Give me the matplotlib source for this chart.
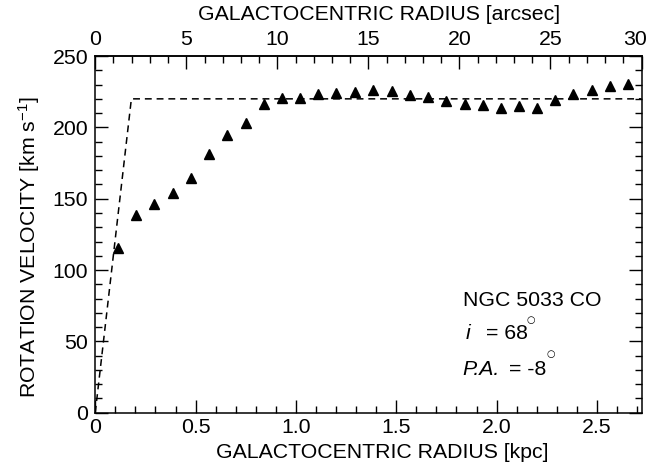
import matplotlib
matplotlib.use("Agg")
import matplotlib.pyplot as plt
from matplotlib.ticker import MultipleLocator
from matplotlib.transforms import ScaledTranslation

plt.rcParams['font.family'] = ['Liberation Sans', 'DejaVu Sans']
plt.rcParams['mathtext.fontset'] = 'custom'
plt.rcParams['mathtext.rm'] = 'Liberation Sans'
plt.rcParams['mathtext.it'] = 'Liberation Sans:italic'

# CO rotation curve of NGC 5033
radius_kpc = [0.115, 0.203, 0.294, 0.386, 0.477, 0.567, 0.658, 0.750, 0.839,
              0.931, 1.020, 1.112, 1.201, 1.293, 1.383, 1.478, 1.567, 1.657,
              1.750, 1.841, 1.931, 2.022, 2.112, 2.203, 2.293, 2.383, 2.475,
              2.566, 2.654]
velocity = [115.2, 138.4, 146.1, 154.2, 164.3, 181.5, 194.6, 202.8, 216.6,
            220.4, 220.8, 223.2, 223.9, 224.8, 226.0, 225.5, 222.5, 221.5,
            218.7, 216.2, 215.4, 213.8, 215.2, 213.8, 219.2, 223.2, 226.2,
            229.0, 230.2]

# model curve: solid-body rise then flat
model_r = [0.0, 0.18, 2.722]
model_v = [0.0, 220.0, 220.0]

x_max_kpc = 2.722
x_max_arcsec = 30.0
kpc_per_arcsec = x_max_kpc / x_max_arcsec

FS = 15.3

fig = plt.figure(figsize=(6.48, 4.73), dpi=100)
ax = fig.add_axes([0.147, 0.1275, 0.843, 0.754])

ax.plot(model_r, model_v, color='black', lw=1.1, linestyle=(0, (4.5, 3.2)))
ax.plot(radius_kpc, velocity, linestyle='none', marker='^', ms=7.5,
        color='black')

ax.set_xlim(0, x_max_kpc)
ax.set_ylim(0, 250)
ax.xaxis.set_minor_locator(MultipleLocator(0.1))
ax.yaxis.set_major_locator(MultipleLocator(50))
ax.yaxis.set_minor_locator(MultipleLocator(10))
ax.set_xticks([0, 0.5, 1.0, 1.5, 2.0, 2.5])
ax.set_xticklabels(['0', '0.5', '1.0', '1.5', '2.0', '2.5'])

for side in ax.spines.values():
    side.set_linewidth(1.1)

ax.tick_params(which='both', direction='in', width=1.0, labelsize=FS,
               top=False, right=True, labelright=False)
ax.tick_params(which='major', length=9.5, pad=4)
ax.tick_params(which='minor', length=4.7)
ax.tick_params(axis='y', which='major', pad=5)

ax.set_xlabel('GALACTOCENTRIC RADIUS [kpc]', fontsize=FS, labelpad=4)
ax.xaxis.label.set_x(0.525)
ax.set_ylabel(r'ROTATION VELOCITY [km s$^{-1}$]', fontsize=FS)
ax.yaxis.set_label_coords(-0.0975, 0.465)

# upper axis in arcsec
top = ax.secondary_xaxis('top', functions=(lambda x: x / kpc_per_arcsec,
                                           lambda a: a * kpc_per_arcsec))
top.set_xticks([0, 5, 10, 15, 20, 25, 30])
top.xaxis.set_minor_locator(MultipleLocator(1))
top.tick_params(which='both', direction='in', width=1.0, labelsize=FS)
top.tick_params(which='major', length=9.5, pad=5)
top.tick_params(which='minor', length=4.7)
top.spines['top'].set_linewidth(1.1)
top.set_xlabel('GALACTOCENTRIC RADIUS [arcsec]', fontsize=FS, labelpad=7)
top.xaxis.label.set_x(0.52)

# annotation block
ax.text(1.83, 78.5, 'NGC 5033 CO', fontsize=FS, va='center', ha='left')
ax.text(1.848, 55.6, 'i', fontsize=FS, va='center', ha='left',
        style='italic')
ax.text(1.948, 55.6, '= 68', fontsize=FS, va='center', ha='left')
ax.text(2.17, 65, '\u25cb', fontsize=7, va='center', ha='center',
        family='DejaVu Sans')
ax.text(1.83, 30.4, 'P.A.', fontsize=FS, va='center', ha='left',
        style='italic')
ax.text(2.064, 30.4, '= -8', fontsize=FS, va='center', ha='left')
ax.text(2.27, 41, '\u25cb', fontsize=7, va='center', ha='center',
        family='DejaVu Sans')

# pull the last arcsec label inside the figure
fig.canvas.draw()
last = top.xaxis.get_major_ticks()[-1]
for lab in (last.label1, last.label2):
    lab.set_transform(lab.get_transform()
                      + ScaledTranslation(-4.5 / 72, 0, fig.dpi_scale_trans))

fig.savefig('out.png', dpi=100)
